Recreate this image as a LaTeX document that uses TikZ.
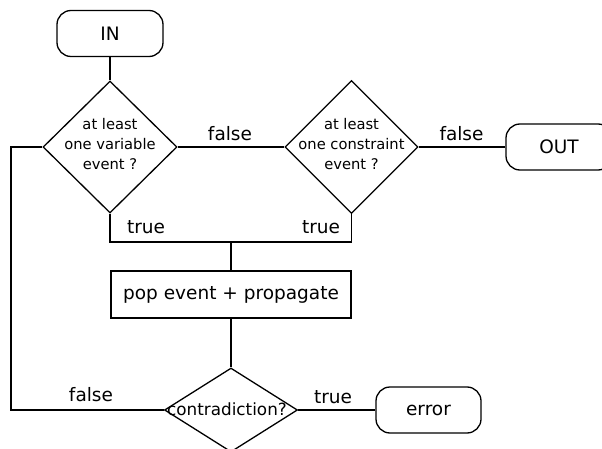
\documentclass[tikz,border=0pt]{standalone}
\usepackage{fontspec}
\setmainfont{DejaVu Sans}
\usetikzlibrary{shapes.geometric}

\tikzset{
  terminal/.style={draw,rounded corners=14pt,minimum width=106pt,minimum height=46pt,inner sep=0pt},
  process/.style={draw,minimum width=240pt,minimum height=47pt,inner sep=0pt},
  decision/.style={draw,shape=diamond,inner sep=0pt},
  dtext/.style={align=center,inner sep=0pt,font=\fontsize{14.7}{20}\selectfont},
  lbl/.style={inner sep=0pt}
}

\begin{document}
\begin{tikzpicture}[x=1pt,y=-1pt,line width=1.3pt,font=\fontsize{18.5}{22}\selectfont]
  % cadrul
  \clip (0,0) rectangle (602,449);

  % nodurile
  \node[terminal] (in) at (110,33.5) {IN};
  \node[decision,minimum width=134pt,minimum height=132pt] (d1) at (110,147) {};
  \node[dtext] at (110,144) {at least\\one variable\\event ?};
  \node[decision,minimum width=133pt,minimum height=133pt] (d2) at (351.5,147) {};
  \node[dtext] at (351.5,144) {at least\\one constraint\\event ?};
  \node[terminal] (out) at (559,147) {OUT};
  \coordinate (join) at (231,242);
  \node[process] (pp) at (231,294.5) {pop event + propagate};
  \node[decision,minimum width=133pt,minimum height=84pt] (d3) at (231,410) {};
  \node[dtext,font=\fontsize{16.8}{20}\selectfont] at (227,409) {contradiction?};
  \node[terminal,minimum width=105pt] (err) at (428.5,410) {error};
  \coordinate (back) at (11,410);

  % legaturile
  \draw (in) -- (d1);
  \draw (d1) -- (d2);
  \draw (d2) -- (out);
  \draw (d1.south) |- (join) -| (d2.south);
  \draw (join) -- (pp);
  \draw (pp) -- (d3);
  \draw (d3) -- (err);
  \draw (d3.west) -- (back) |- (d1.west);

  % etichete
  \node[lbl] (f1) at (230,134) {false};
  \node[lbl] (f2) at (461.5,134) {false};
  \node[lbl] (t1) at (146,227) {true};
  \node[lbl] (t2) at (321,227) {true};
  \node[lbl] (t3) at (333,397) {true};
  \node[lbl] (f3) at (91,395) {false};
\end{tikzpicture}
\end{document}
